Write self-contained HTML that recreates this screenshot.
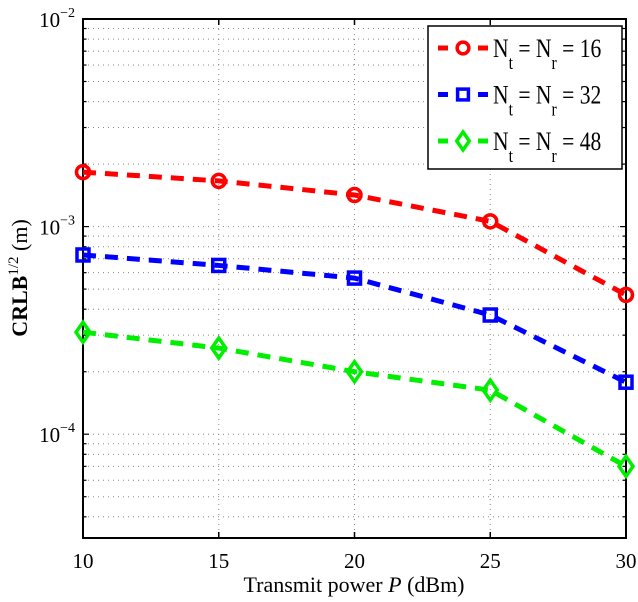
<!DOCTYPE html>
<html><head><meta charset="utf-8"><style>
html,body{margin:0;padding:0;background:#fff;}
svg{display:block;font-family:"Liberation Serif",serif;}
</style></head><body>
<svg id="chart" width="638" height="602" viewBox="0 0 638 602" xmlns="http://www.w3.org/2000/svg">
<g id="grid"></g>
<g id="axes"></g>
<g id="series"></g>
<g id="legend"></g>
</svg>
<script>
const xValues = [10, 15, 20, 25, 30];
const xTicks = [10, 15, 20, 25, 30];
const yTickExps = [-2, -3, -4];
const series16 = [1.83e-3, 1.66e-3, 1.42e-3, 1.06e-3, 4.69e-4];
const series32 = [7.3e-4, 6.5e-4, 5.65e-4, 3.75e-4, 1.78e-4];
const series48 = [3.1e-4, 2.6e-4, 2.0e-4, 1.63e-4, 7.0e-5];
const seriesLabels = ["16", "32", "48"];

const L=83,R=626,T=19,B=538;
const xMin=10,xMax=30,yMinE=-4.5,yMaxE=-2;
const xs=v=>L+(v-xMin)/(xMax-xMin)*(R-L);
const ys=v=>T+(yMaxE-Math.log10(v))/(yMaxE-yMinE)*(B-T);
const NS="http://www.w3.org/2000/svg";
function mk(tag,attrs,parent){const e=document.createElementNS(NS,tag);for(const k in attrs)e.setAttribute(k,attrs[k]);parent.appendChild(e);return e;}
const grid=document.getElementById('grid'),axes=document.getElementById('axes'),ser=document.getElementById('series'),leg=document.getElementById('legend');

xTicks.forEach(t=>{
  const x=xs(t);
  if(t!==xMin&&t!==xMax){const g=mk('line',{x1:x,y1:T,x2:x,y2:B,stroke:'#888','stroke-width':1,'stroke-dasharray':'1,4'},grid);
  
  }
  const tk1=mk('line',{x1:x,y1:B,x2:x,y2:B-6,stroke:'#000','stroke-width':1.5},axes);
  
  
  mk('line',{x1:x,y1:T,x2:x,y2:T+6,stroke:'#000','stroke-width':1.5},axes);
  const lb=mk('text',{x:x,y:B+30,'font-size':21,'text-anchor':'middle'},axes);
  lb.textContent=t;
  
  
});
for(let e=-5;e<=-2;e++){
  for(let m=1;m<=9;m++){
    const v=m*Math.pow(10,e);
    const y=ys(v);
    if(y<T-0.5||y>B+0.5)continue;
    if(Math.abs(y-T)>1&&Math.abs(y-B)>1){
      const g=mk('line',{x1:L,y1:y,x2:R,y2:y,stroke:'#888','stroke-width':1,'stroke-dasharray':'1,4'},grid);
      
      
    }
    const len=m===1?6:3.5;
    mk('line',{x1:L,y1:y,x2:L+len,y2:y,stroke:'#000','stroke-width':1.2},axes);
    mk('line',{x1:R,y1:y,x2:R-len,y2:y,stroke:'#000','stroke-width':1.2},axes);
  }
}
yTickExps.forEach(e=>{
  const y=ys(Math.pow(10,e));
  const t=mk('text',{x:L-8,y:y+8,'font-size':21,'text-anchor':'end'},axes);
  t.innerHTML='10<tspan dy="-10" font-size="14">'+(e<0?'\u2212':'')+Math.abs(e)+'</tspan>';
  
  
});
const box=mk('rect',{x:L,y:T,width:R-L,height:B-T,fill:'none',stroke:'#000','stroke-width':2},axes);


const xt=mk('text',{x:354,y:592,'font-size':22,'text-anchor':'middle'},axes);
xt.innerHTML='Transmit power <tspan font-style="italic">P</tspan> (dBm)';


const yt=mk('text',{x:0,y:0,'font-size':22,'text-anchor':'middle','font-weight':'bold',transform:'translate(27,278) rotate(-90)'},axes);
yt.innerHTML='CRLB<tspan dy="-9" font-size="15" font-weight="normal">1/2</tspan><tspan dy="9" font-weight="normal"> (m)</tspan>';



function marker(kind,cx,cy,color,parent,s){
  s=s||1;
  let m;
  if(kind==='o')m=mk('circle',{cx:cx,cy:cy,r:6.5*s,fill:'none',stroke:color,'stroke-width':3.5},parent);
  else if(kind==='s')m=mk('rect',{x:cx-6*s,y:cy-6*s,width:12*s,height:12*s,fill:'none',stroke:color,'stroke-width':3.5},parent);
  else m=mk('polygon',{points:`${cx},${cy-10*s} ${cx+7*s},${cy} ${cx},${cy+10*s} ${cx-7*s},${cy}`,fill:'none',stroke:color,'stroke-width':3.5},parent);
  return m;
}
const defs=[[series16,'#ff0000','o'],[series32,'#0000ff','s'],[series48,'#00ee00','d']];
defs.forEach(([vals,color,kind],i)=>{
  const pts=vals.map((v,j)=>xs(xValues[j])+','+ys(v)).join(' ');
  const pl=mk('polyline',{points:pts,fill:'none',stroke:color,'stroke-width':5,'stroke-dasharray':'13,9'},ser);
  
  
  vals.forEach((v,j)=>{
    const m=marker(kind,xs(xValues[j]),ys(v),color,ser);
    
    
  });
});
const lb=mk('rect',{x:428,y:26,width:194,height:143,fill:'#fff',stroke:'#000','stroke-width':1.5},leg);


defs.forEach(([vals,color,kind],i)=>{
  const y=48+i*46.5;
  const g=mk('g',{},leg);
  
  
  mk('line',{x1:438,y1:y,x2:448,y2:y,stroke:color,'stroke-width':5},g);
  mk('line',{x1:478,y1:y,x2:488,y2:y,stroke:color,'stroke-width':5},g);
  marker(kind,463,y,color,g,0.9);
  const t=mk('text',{x:0,y:0,'font-size':26,transform:`translate(493,${y+9}) scale(0.83,1)`},g);
  t.innerHTML='N<tspan dy="12" font-size="19">t</tspan><tspan dy="-12"> = N</tspan><tspan dy="12" font-size="19">r</tspan><tspan dy="-12"> = '+seriesLabels[i]+'</tspan>';
});
</script>
</body></html>
